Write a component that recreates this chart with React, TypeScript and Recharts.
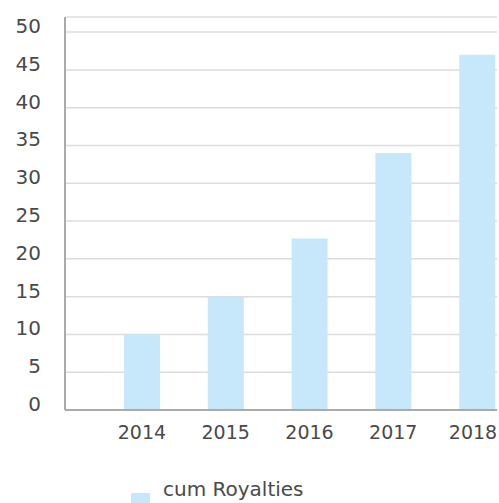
import React from 'react';
import { BarChart, Bar, XAxis, YAxis, CartesianGrid, Legend } from 'recharts';

const years = ['2014', '2015', '2016', '2017', '2018'];
const royalties = [10, 15, 22.7, 34, 47];
const yTicks = [0, 5, 10, 15, 20, 25, 30, 35, 40, 45, 50];
const seriesName = 'cum Royalties';

const data = years.map((year, i) => ({ year, royalties: royalties[i] }));

const FONT = '"DejaVu Sans", "Liberation Sans", sans-serif';
const TEXT = '#4a4a4a';
const BAR = '#c7e8fa';
const VIEW_W = 497;

const XTick = (props: any) => {
  const { x, y, payload } = props;
  const cx = Math.min(x, VIEW_W - 24);
  return (
    <text x={cx} y={y + 21} textAnchor="middle" fontFamily={FONT} fontSize={19} fill={TEXT}>
      {payload.value}
    </text>
  );
};

const YTick = (props: any) => {
  const { x, y, payload } = props;
  return (
    <text x={x - 16} y={y + 1} textAnchor="end" fontFamily={FONT} fontSize={20} fill={TEXT}>
      {payload.value}
    </text>
  );
};

const LegendContent = () => (
  <div style={{ position: 'relative', height: 0, width: 0 }}>
    <svg width={330} height={40} style={{ position: 'absolute', left: 0, top: 470, overflow: 'visible' }}>
      <rect x={131} y={23} width={19} height={19} fill={BAR} />
      <text x={163} y={25.5} fontFamily={FONT} fontSize={20} fill={TEXT}>
        {seriesName}
      </text>
    </svg>
  </div>
);

export default function App() {
  return (
    <div style={{ position: 'absolute', left: 0, top: 0, width: VIEW_W, height: 503, overflow: 'hidden', background: '#fff' }}>
      <BarChart
        width={519}
        height={503}
        data={data}
        margin={{ top: 17, right: 0, bottom: 0, left: 0 }}
        barSize={36}
      >
        <CartesianGrid vertical={false} stroke="#dcdcdc" strokeWidth={1.5} />
        <XAxis
          dataKey="year"
          height={93}
          padding={{ left: 35, right: 0 }}
          axisLine={{ stroke: '#aaaaaa', strokeWidth: 2 }}
          tickLine={false}
          tick={<XTick />}
          interval={0}
        />
        <YAxis
          width={65}
          domain={[0, 52]}
          ticks={yTicks}
          axisLine={{ stroke: '#aaaaaa', strokeWidth: 2 }}
          tickLine={false}
          tick={<YTick />}
          interval={0}
        />
        <Bar dataKey="royalties" name={seriesName} fill={BAR} isAnimationActive={false} />
        <Legend
          verticalAlign="bottom"
          wrapperStyle={{ left: 0, top: 0, bottom: 'auto', width: 0, height: 0 }}
          content={<LegendContent />}
        />
      </BarChart>
    </div>
  );
}
